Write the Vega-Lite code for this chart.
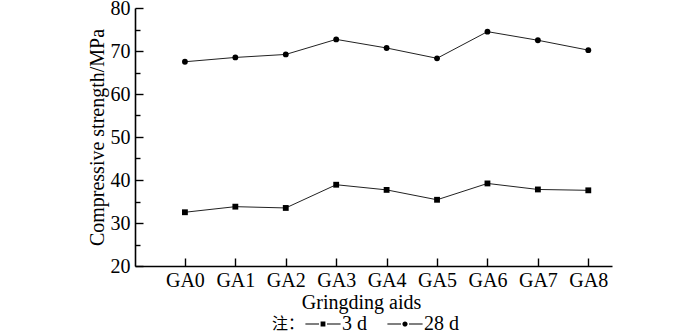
{
  "$schema": "https://vega.github.io/schema/vega-lite/v6.json",
  "width": 477,
  "height": 258,
  "autosize": {"type": "none"},
  "padding": {"left": 135, "top": 8, "right": 88, "bottom": 69},
  "background": "white",
  "config": {
    "view": {"stroke": null},
    "font": "Liberation Serif",
    "axis": {"grid": false, "domainColor": "black", "tickColor": "black", "labelColor": "black", "titleColor": "black", "labelFont": "Liberation Serif", "titleFont": "Liberation Serif", "labelFontSize": 20, "titleFontSize": 20, "titleFontWeight": "normal", "domainWidth": 1.6, "tickWidth": 1.4}
  },
  "data": {
    "values": [
      {"aid": "GA0", "n": 0, "age": "3 d", "strength": 32.5},
      {"aid": "GA1", "n": 1, "age": "3 d", "strength": 33.8},
      {"aid": "GA2", "n": 2, "age": "3 d", "strength": 33.5},
      {"aid": "GA3", "n": 3, "age": "3 d", "strength": 38.9},
      {"aid": "GA4", "n": 4, "age": "3 d", "strength": 37.7},
      {"aid": "GA5", "n": 5, "age": "3 d", "strength": 35.4},
      {"aid": "GA6", "n": 6, "age": "3 d", "strength": 39.2},
      {"aid": "GA7", "n": 7, "age": "3 d", "strength": 37.8},
      {"aid": "GA8", "n": 8, "age": "3 d", "strength": 37.6},
      {"aid": "GA0", "n": 0, "age": "28 d", "strength": 67.5},
      {"aid": "GA1", "n": 1, "age": "28 d", "strength": 68.5},
      {"aid": "GA2", "n": 2, "age": "28 d", "strength": 69.2},
      {"aid": "GA3", "n": 3, "age": "28 d", "strength": 72.7},
      {"aid": "GA4", "n": 4, "age": "28 d", "strength": 70.7},
      {"aid": "GA5", "n": 5, "age": "28 d", "strength": 68.3},
      {"aid": "GA6", "n": 6, "age": "28 d", "strength": 74.5},
      {"aid": "GA7", "n": 7, "age": "28 d", "strength": 72.5},
      {"aid": "GA8", "n": 8, "age": "28 d", "strength": 70.2}
    ]
  },
  "encoding": {
    "x": {
      "field": "n", "type": "quantitative",
      "scale": {"domain": [-0.99, 8.47], "nice": false, "zero": false},
      "axis": {"values": [0, 1, 2, 3, 4, 5, 6, 7, 8], "labelExpr": "'GA' + datum.value", "title": "Gringding aids", "tickSize": -8, "labelPadding": 12, "titlePadding": 2, "titleX": 226, "labelFlush": false}
    }
  },
  "resolve": {"axis": {"y": "independent"}, "scale": {"shape": "independent"}},
  "layer": [
    {
      "mark": {"type": "line", "color": "#222222", "strokeWidth": 1},
      "encoding": {
        "y": {
          "field": "strength", "type": "quantitative",
          "scale": {"domain": [20, 80], "nice": false, "zero": false},
          "axis": {"values": [20, 30, 40, 50, 60, 70, 80], "title": "Compressive strength/MPa", "tickSize": -8, "labelPadding": 13, "titlePadding": 3, "labelFlush": false}
        },
        "detail": {"field": "age"}
      }
    },
    {
      "mark": {"type": "point", "opacity": 0, "filled": true, "color": "black"},
      "encoding": {
        "y": {"field": "strength", "type": "quantitative", "axis": {"orient": "left", "values": [25, 35, 45, 55, 65, 75], "labels": false, "domain": false, "title": null, "tickSize": -5}},
        "shape": {
          "field": "age", "type": "nominal",
          "scale": {"domain": ["3 d", "28 d"], "range": ["M-4.4,-0.14H-1V0.14H-4.4ZM1,-0.14H4.4V0.14H1ZM-0.6,-0.6H0.6V0.6H-0.6Z", "M-4.4,-0.14H-1V0.14H-4.4ZM1,-0.14H4.4V0.14H1ZM0.65,0A0.65,0.65,0,1,1,-0.65,0A0.65,0.65,0,1,1,0.65,0Z"]},
          "legend": {
            "orient": "none", "legendX": 137, "legendY": 306,
            "direction": "horizontal",
            "title": "注：", "titleOrient": "left", "titleFontSize": 16, "titleFont": "Noto Sans CJK SC", "titleFontWeight": "normal", "titleColor": "black", "titlePadding": 8,
            "labelFontSize": 20, "labelFont": "Liberation Serif", "labelColor": "black", "labelOffset": 9,
            "symbolSize": 64, "columnPadding": 17,
            "symbolOpacity": 1, "symbolFillColor": "black"
          }
        }
      }
    },
    {
      "mark": {"type": "point", "filled": true, "color": "black", "opacity": 1, "size": 34},
      "encoding": {
        "y": {"field": "strength", "type": "quantitative", "axis": null},
        "shape": {
          "field": "age", "type": "nominal",
          "scale": {"domain": ["3 d", "28 d"], "range": ["square", "circle"]},
          "legend": null
        }
      }
    }
  ]
}
